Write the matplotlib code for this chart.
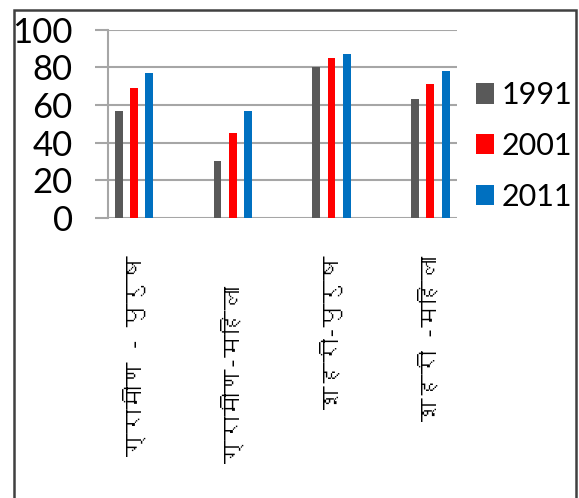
import matplotlib
matplotlib.use('Agg')
import matplotlib.pyplot as plt
import matplotlib.transforms as mtransforms
from matplotlib import font_manager
from matplotlib.ft2font import FT2Font
from matplotlib.patches import Rectangle
import numpy as np

categories = ['ग्रामीण - पुरुष', 'ग्रामीण-महिला', 'शहरी-पुरुष', 'शहरी -महिला']
years = ['1991', '2001', '2011']
v1991 = [57, 30, 80, 63]
v2001 = [69, 45, 85, 71]
v2011 = [77, 57, 87, 78]
colors = ['#595959', '#ff0000', '#0070c0']


# look for any installed font that covers Devanagari
def find_deva():
    for f in font_manager.fontManager.ttflist:
        try:
            if FT2Font(f.fname).get_char_index(0x0917):
                return f.name
        except Exception:
            pass
    return None


deva = find_deva()
label_family = [deva, 'DejaVu Sans'] if deva else ['DejaVu Sans']
plt.rcParams['font.family'] = ['Lato', 'DejaVu Sans']

fig = plt.figure(figsize=(5.79, 4.98), dpi=100)
ax = fig.add_axes([108/579, 1-218/498, 349/579, 188.5/498])

x = np.arange(len(categories))
width = 0.08
offset = 0.155
for i, (vals, yr) in enumerate(zip([v1991, v2001, v2011], years)):
    ax.bar(x + (i-1)*offset, vals, width, color=colors[i], label=yr, zorder=3)

ax.set_ylim(0, 100)
ax.set_xlim(-0.263, 3.27)
ax.set_yticks([0, 20, 40, 60, 80, 100])
ax.grid(axis='y', color='#a6a6a6', linewidth=1.5, zorder=0)
for s in ['top', 'right', 'bottom']:
    ax.spines[s].set_visible(False)
ax.spines['left'].set_color('#a6a6a6')
ax.spines['left'].set_linewidth(1.5)
ax.tick_params(axis='y', length=9.4, width=1.5, color='#a6a6a6', pad=16, labelsize=25)
ax.set_xticks(x)
ax.set_xticklabels(categories, rotation=90, fontsize=17, family=label_family, va='top', ha='center')
ax.tick_params(axis='x', length=0, pad=27)
# second label sits lower in the original
lab = ax.get_xticklabels()[1]
lab.set_transform(lab.get_transform() + mtransforms.ScaledTranslation(0, -30/100, fig.dpi_scale_trans))

ax.legend(loc='center left', bbox_to_anchor=(476/579, 1-146/498), bbox_transform=fig.transFigure,
          frameon=False, fontsize=22, handlelength=0.6, handleheight=0.65, handletextpad=0.25,
          labelspacing=0.75, borderpad=0, borderaxespad=0)

fig.patches.append(Rectangle((14/579, -0.05), 562/579, 1.05-10/498, transform=fig.transFigure,
                             fill=False, edgecolor='#404040', linewidth=1.8, clip_on=False))

fig.savefig('out.png', dpi=100)
